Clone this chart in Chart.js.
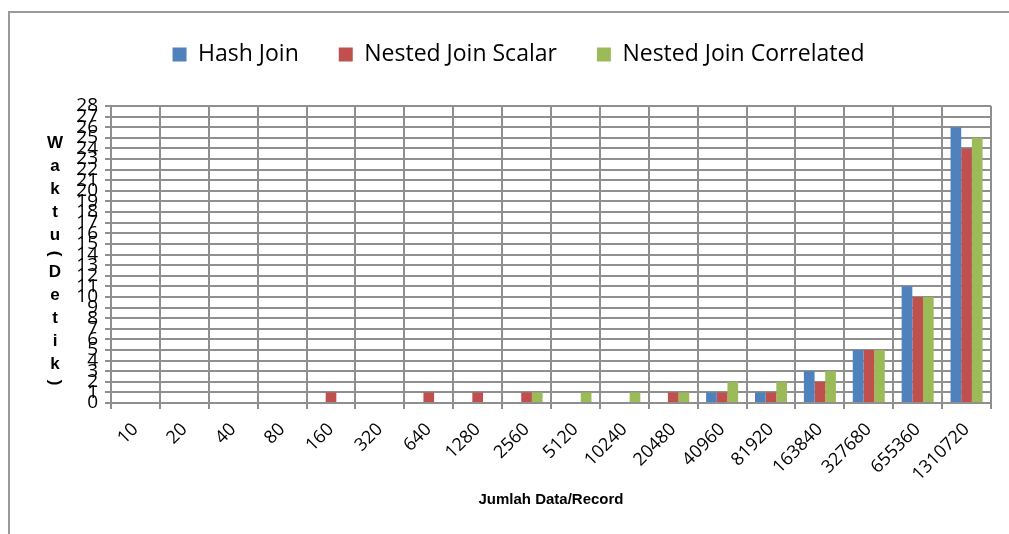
<!DOCTYPE html>
<html>
<head>
<meta charset="utf-8">
<title>Waktu Eksekusi Join</title>
<script src="https://cdn.jsdelivr.net/npm/chart.js@4.4.1/dist/chart.umd.min.js"></script>
<style>
  html, body { margin: 0; padding: 0; background: #fff; }
  #box { position: relative; width: 1009px; height: 534px; }
</style>
</head>
<body>
<div id="box"><canvas id="myChart"></canvas></div>
<script>
"use strict";

// Jumlah data (record) per percobaan
const records = ["10", "20", "40", "80", "160", "320", "640", "1280", "2560", "5120",
  "10240", "20480", "40960", "81920", "163840", "327680", "655360", "1310720"];

// Waktu eksekusi dalam detik
const hashJoin = [0, 0, 0, 0, 0, 0, 0, 0, 0, 0, 0, 0, 1, 1, 3, 5, 11, 26];
const nestedScalar = [0, 0, 0, 0, 1, 0, 1, 1, 1, 0, 0, 1, 1, 1, 2, 5, 10, 24];
const nestedCorrelated = [0, 0, 0, 0, 0, 0, 0, 0, 1, 1, 1, 1, 2, 2, 3, 5, 10, 25];

const yMax = 28;
const yTitle = "Waktu (Detik)";
const xTitle = "Jumlah Data/Record";

const gridColor = "#8f8f8f";

// Frame around the whole chart (only top and left edge are inside the canvas)
const framePlugin = {
  id: "frame",
  beforeDraw(chart) {
    const ctx = chart.ctx;
    ctx.save();
    ctx.strokeStyle = "#9a9a9a";
    ctx.lineWidth = 2;
    ctx.beginPath();
    ctx.moveTo(9, chart.height + 2);
    ctx.lineTo(9, 12);
    ctx.lineTo(chart.width + 2, 12);
    ctx.stroke();
    ctx.restore();
  }
};

// Y axis title drawn as stacked characters, parentheses turned sideways
const stackedTitlePlugin = {
  id: "stackedTitle",
  afterDraw(chart) {
    const ctx = chart.ctx;
    const chars = yTitle.replace(/ /g, "").split("");
    const adv = (c) => (c === "(" || c === ")" ? 14 : 23);
    ctx.save();
    ctx.font = "bold 17px 'Liberation Sans Narrow', 'Liberation Sans', Arial, sans-serif";
    ctx.fillStyle = "#000";
    ctx.textAlign = "center";
    ctx.textBaseline = "middle";
    let y = 143;
    chars.forEach((c, i) => {
      if (i > 0) y += (adv(chars[i - 1]) + adv(c)) / 2;
      if (c === "(" || c === ")") {
        ctx.save();
        ctx.translate(55, y);
        ctx.rotate(Math.PI / 2);
        ctx.fillText(c, 0, 0);
        ctx.restore();
      } else {
        ctx.fillText(c, 55, y);
      }
    });
    ctx.restore();
  }
};

const ctx = document.getElementById("myChart").getContext("2d");
const myChart = new Chart(ctx, {
  type: "bar",
  data: {
    labels: records,
    datasets: [
      { label: "Hash Join", data: hashJoin, backgroundColor: "#4f81bd" },
      { label: "Nested Join Scalar", data: nestedScalar, backgroundColor: "#c0504d" },
      { label: "Nested Join Correlated", data: nestedCorrelated, backgroundColor: "#9bbb59" }
    ]
  },
  options: {
    responsive: true,
    maintainAspectRatio: false,
    animation: false,
    // Excel-like gap between groups
    categoryPercentage: 0.655,
    barPercentage: 1.0,
    layout: {
      padding: { left: 46, top: 3, right: 18, bottom: 25 }
    },
    plugins: {
      legend: {
        position: "top",
        labels: {
          color: "#000",
          font: { family: "'Open Sans', sans-serif", size: 23 },
          boxWidth: 14,
          boxHeight: 14,
          padding: 40
        }
      },
      tooltip: { enabled: false }
    },
    scales: {
      // empty band between legend and plot area
      gap: {
        type: "category",
        position: "top",
        grid: { display: false },
        border: { display: false },
        ticks: { display: false },
        afterFit: (scale) => { scale.height = 30; }
      },
      x: {
        grid: {
          color: gridColor,
          lineWidth: 2,
          tickLength: 6,
          offset: true
        },
        border: { color: gridColor, width: 2 },
        ticks: {
          color: "#000",
          font: { family: "'Open Sans', sans-serif", size: 18 },
          minRotation: 45,
          maxRotation: 45,
          autoSkip: false,
          padding: 10
        },
        title: {
          display: true,
          text: xTitle,
          color: "#000",
          font: { family: "'Liberation Sans Narrow', 'Liberation Sans', Arial, sans-serif", size: 15, weight: "bold" },
          padding: 0
        },
        afterFit: (scale) => { scale.height = 106; }
      },
      y: {
        min: 0,
        max: yMax,
        grid: {
          color: gridColor,
          lineWidth: 2,
          tickLength: 6
        },
        border: { color: gridColor, width: 2 },
        ticks: {
          stepSize: 1,
          autoSkip: false,
          color: "#000",
          font: { family: "'Open Sans', sans-serif", size: 19 },
          padding: 7
        },
        afterFit: (scale) => { scale.width = 65; }
      }
    }
  },
  plugins: [framePlugin, stackedTitlePlugin]
});
</script>
</body>
</html>
